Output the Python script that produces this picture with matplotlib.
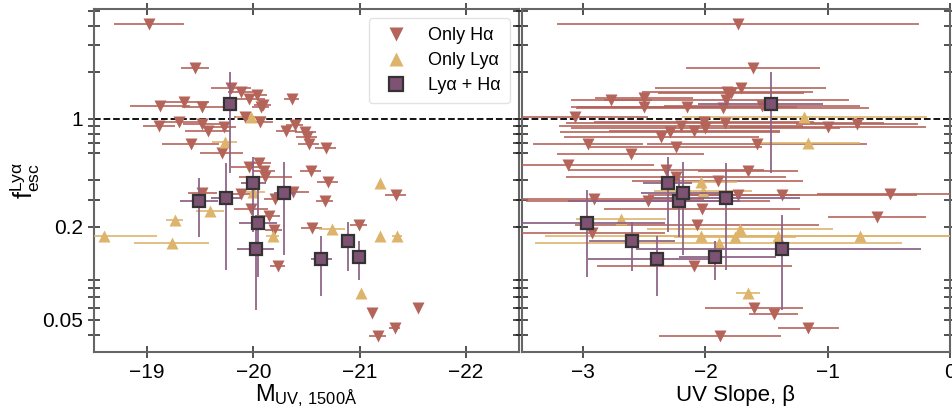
import matplotlib
matplotlib.use("Agg")
import matplotlib.pyplot as plt
import numpy as np
from matplotlib.colors import to_rgba
from matplotlib.lines import Line2D
from matplotlib.ticker import FixedLocator, FixedFormatter, NullFormatter

plt.rcParams["font.family"] = ["Liberation Sans", "DejaVu Sans"]
plt.rcParams["mathtext.fontset"] = "custom"
plt.rcParams["mathtext.rm"] = "Liberation Sans"
plt.rcParams["mathtext.it"] = "Liberation Sans:italic"

# --- galaxies with only an H-alpha detection (upper limits on f_esc) ---
muv_ha = [-19.02, -19.45, -19.79, -19.88, -19.96, -20.03, -20.07, -20.09, -20.36, -19.12,
          -19.35, -19.52, -19.92, -20.06, -19.11, -19.30, -19.52, -19.57, -19.72, -20.31,
          -20.39, -20.49, -20.50, -20.52, -20.68, -19.41, -19.70, -19.96, -20.05, -20.10,
          -20.11, -20.54, -20.70, -19.52, -19.88, -20.20, -20.37, -20.67, -19.98, -20.15,
          -20.19, -20.55, -20.99, -20.23, -21.12, -21.17, -21.33, -21.55, -21.34]
muv_ha_err = [0.33, 0.13, 0.19, 0.12, 0.15, 0.10, 0.08, 0.08, 0.07, 0.28,
              0.23, 0.19, 0.10, 0.12, 0.15, 0.20, 0.18, 0.21, 0.12, 0.10,
              0.08, 0.10, 0.10, 0.10, 0.10, 0.27, 0.20, 0.17, 0.12, 0.10,
              0.25, 0.10, 0.10, 0.14, 0.10, 0.10, 0.15, 0.08, 0.16, 0.10,
              0.08, 0.10, 0.08, 0.07, 0.00, 0.08, 0.05, 0.00, 0.10]
fesc_ha_muv = [4.12, 2.13, 1.58, 1.49, 1.35, 1.42, 1.20, 1.23, 1.34, 1.22,
               1.29, 1.20, 1.03, 0.95, 0.90, 0.96, 0.93, 0.836, 0.884, 0.836,
               0.908, 0.82, 0.768, 0.692, 0.646, 0.689, 0.60, 0.487, 0.521, 0.463,
               0.420, 0.463, 0.393, 0.332, 0.326, 0.302, 0.335, 0.294, 0.262, 0.236,
               0.190, 0.196, 0.205, 0.111, 0.0553, 0.0394, 0.0442, 0.0595, 0.322]

beta_ha = [-1.73, -1.61, -1.71, -1.79, -1.82, -1.83, -1.86, -1.54, -2.77, -2.50,
           -2.50, -2.15, -3.07, -2.20, -2.01, -2.00, -2.09, -1.84, -2.29, -2.36,
           -2.96, -2.24, -2.61, -3.12, -2.32, -2.24, -1.90, -1.58, -1.65, -1.00,
           -0.76, -2.91, -2.47, -2.03, -2.07, -2.93, -2.09, -1.88, -1.73, -1.37,
           -0.49, -0.60, -1.60, -1.44, -1.16]
beta_ha_err = [1.48, 0.55, 0.70, 0.60, 0.70, 1.00, 1.20, 0.80, 0.33, 0.40,
               0.60, 0.90, 0.60, 1.00, 0.90, 1.10, 0.70, 1.30, 0.90, 0.80,
               0.45, 0.70, 0.60, 0.70, 0.80, 0.90, 0.70, 0.90, 0.41, 0.80,
               0.50, 0.90, 1.00, 0.80, 1.00, 0.60, 0.80, 0.50, 0.50, 1.10,
               0.60, 0.40, 0.40, 0.20, 0.25]
fesc_ha_beta = [4.12, 2.13, 1.58, 1.47, 1.50, 1.33, 1.17, 1.21, 1.33, 1.36,
                1.20, 1.19, 1.03, 0.90, 0.961, 0.871, 0.836, 0.946, 0.828, 0.768,
                0.689, 0.656, 0.594, 0.504, 0.464, 0.421, 0.394, 0.686, 0.461, 0.892,
                0.928, 0.302, 0.296, 0.261, 0.206, 0.184, 0.111, 0.0394, 0.322, 0.324,
                0.326, 0.233, 0.0595, 0.0547, 0.0442]

# --- galaxies with only a Ly-alpha detection (lower limits) ---
muv_lya = [-18.59, -19.26, -19.23, -19.59, -20.00, -20.18, -19.98, -19.73, -20.74,
           -21.19, -21.19, -21.35, -21.01]
muv_lya_err = [0.50, 0.08, 0.35, 0.13, 0.11, 0.06, 0.14, 0.12, 0.12, 0.0, 0.0, 0.05, 0.0]
fesc_lya_muv = [0.175, 0.222, 0.158, 0.254, 0.338, 0.176, 1.03, 0.710, 0.193,
                0.387, 0.175, 0.175, 0.0744]

beta_lya = [-1.19, -1.16, -2.04, -2.02, -2.69, -2.04, -1.89, -1.76, -1.72, -1.41, -0.74, -1.65]
beta_lya_err = [1.00, 0.42, 0.30, 0.40, 0.37, 0.50, 1.50, 0.50, 0.76, 1.90, 0.90, 0.10]
fesc_lya_beta = [1.03, 0.703, 0.388, 0.341, 0.224, 0.176, 0.158, 0.173, 0.194, 0.175, 0.175, 0.0751]

# --- galaxies detected in both lines ---
fesc_both = [1.25, 0.383, 0.211, 0.143, 0.294, 0.309, 0.332, 0.124, 0.161, 0.127]
fesc_both_hi = [2.01, 0.568, 0.347, 0.239, 0.415, 0.519, 0.529, 0.175, 0.216, 0.162]
fesc_both_lo = [0.445, 0.186, 0.095, 0.058, 0.173, 0.105, 0.132, 0.0715, 0.103, 0.0908]
muv_both = [-19.78, -20.00, -20.04, -20.02, -19.49, -19.74, -20.29, -20.64, -20.89, -20.99]
muv_both_err = [0.07, 0.12, 0.18, 0.17, 0.18, 0.14, 0.10, 0.10, 0.07, 0.05]
beta_both = [-1.46, -2.31, -2.97, -1.37, -2.22, -1.83, -2.18, -2.40, -2.60, -1.92]
beta_both_lo = [0.60, 0.20, 0.53, 1.20, 0.90, 0.60, 0.35, 0.56, 0.35, 0.30]
beta_both_hi = [0.42, 0.20, 0.64, 1.13, 0.50, 0.60, 0.35, 0.52, 0.35, 0.50]

c_ha = "#b5645a"
c_lya = "#deb46c"
c_both = "#7d5273"
c_both_err = "#8d6285"

yticks = [0.05, 0.2, 1]
yminor = [0.04, 0.06, 0.07, 0.08, 0.09, 0.3, 0.4, 0.6, 0.7, 0.8, 0.9, 2, 3, 4, 5]


def draw_panel(ax, x_ha, xe_ha, y_ha, x_lya, xe_lya, y_lya, x_both, xe_both):
    ax.axhline(1, color="k", ls="--", lw=1.3, zorder=1.5)
    ax.errorbar(x_ha, y_ha, xerr=xe_ha, fmt="v", ms=9, color=c_ha, mec="none",
                ecolor=to_rgba(c_ha, 0.85), elinewidth=1.4, capsize=0, zorder=3)
    ax.errorbar(x_lya, y_lya, xerr=xe_lya, fmt="^", ms=9, color=c_lya, mec="none",
                ecolor=to_rgba(c_lya, 0.85), elinewidth=1.4, capsize=0, zorder=3)
    yerr = [np.array(fesc_both) - np.array(fesc_both_lo),
            np.array(fesc_both_hi) - np.array(fesc_both)]
    ax.errorbar(x_both, fesc_both, xerr=xe_both, yerr=yerr, fmt="s", ms=9,
                mfc=c_both, mec="#333333", mew=1.6,
                ecolor=to_rgba(c_both_err, 0.9), elinewidth=1.4, capsize=0, zorder=4)
    ax.set_yscale("log")
    ax.set_ylim(0.031, 5.15)
    ax.yaxis.set_major_locator(FixedLocator(yticks))
    ax.yaxis.set_major_formatter(FixedFormatter(["0.05", "0.2", "1"]))
    ax.yaxis.set_minor_locator(FixedLocator(yminor))
    ax.yaxis.set_minor_formatter(NullFormatter())
    ax.tick_params(which="both", direction="inout", length=9, width=1.1,
                   color="#222222", top=True, right=True, labelsize=15)
    for s in ax.spines.values():
        s.set_color("#666666")
        s.set_linewidth(1.5)


fig = plt.figure(figsize=(9.52, 4.12), dpi=100)
ax1 = fig.add_axes([94 / 952, 60 / 412, 425 / 952, 343 / 412])
ax2 = fig.add_axes([522 / 952, 60 / 412, 428 / 952, 343 / 412])

draw_panel(ax1, muv_ha, muv_ha_err, fesc_ha_muv, muv_lya, muv_lya_err, fesc_lya_muv,
           muv_both, muv_both_err)
draw_panel(ax2, beta_ha, beta_ha_err, fesc_ha_beta, beta_lya, beta_lya_err, fesc_lya_beta,
           beta_both, [beta_both_lo, beta_both_hi])

ax1.set_xlim(-18.5, -22.5)
ax1.set_xticks([-19, -20, -21, -22])
ax1.set_xlabel(r"$\mathrm{M_{UV,\,1500\AA}}$", fontsize=17, labelpad=0)
ax1.set_ylabel(r"$\mathrm{f_{esc}^{Ly\alpha}}$", fontsize=18, labelpad=0)

ax2.set_xlim(-3.5, 0)
ax2.set_xticks([-3, -2, -1, 0])
ax2.tick_params(labelleft=False)
ax2.set_xlabel("UV Slope, β", fontsize=16, labelpad=2)

handles = [
    Line2D([], [], ls="none", marker="v", ms=10, color=c_ha, mec="none"),
    Line2D([], [], ls="none", marker="^", ms=10, color=c_lya, mec="none"),
    Line2D([], [], ls="none", marker="s", ms=10, mfc=c_both, mec="#333333", mew=1.6),
]
leg = ax1.legend(handles, ["Only Hα", "Only Lyα", "Lyα + Hα"], loc="upper right",
                 fontsize=13, frameon=True, fancybox=True, labelspacing=0.45,
                 borderaxespad=0.5, borderpad=0.5)
leg.get_frame().set_edgecolor("#dddddd")

fig.savefig("out.png", dpi=100)
plt.close()
